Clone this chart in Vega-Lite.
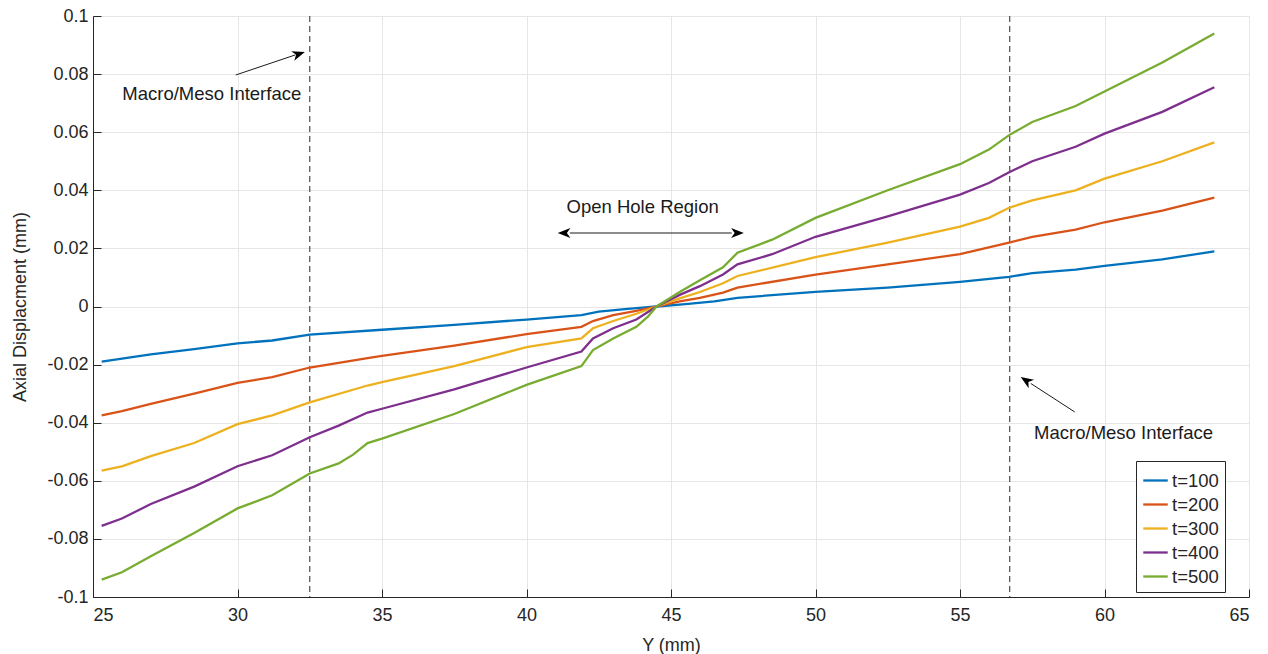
{
  "$schema": "https://vega.github.io/schema/vega-lite/v6.json",
  "width": 1156,
  "height": 581,
  "autosize": "none",
  "padding": {"left": 93, "top": 16, "right": 19, "bottom": 57},
  "background": "white",
  "config": {
    "font": "Liberation Sans",
    "view": {"stroke": "#e6e6e6", "strokeWidth": 1},
    "axis": {
      "labelFont": "Liberation Sans",
      "titleFont": "Liberation Sans",
      "labelFontSize": 18,
      "titleFontSize": 18,
      "titleFontWeight": "normal",
      "labelColor": "#262626",
      "titleColor": "#262626",
      "domainColor": "#262626",
      "tickColor": "#262626",
      "gridColor": "#e6e6e6",
      "gridWidth": 1,
      "tickSize": -8
    }
  },
  "datasets": {
    "curves": [
      {"x": 25.3, "y": -0.019, "s": "t=100"},
      {"x": 27, "y": -0.0165, "s": "t=100"},
      {"x": 28.5, "y": -0.0147, "s": "t=100"},
      {"x": 30, "y": -0.0127, "s": "t=100"},
      {"x": 31.2, "y": -0.0117, "s": "t=100"},
      {"x": 32.5, "y": -0.0097, "s": "t=100"},
      {"x": 35, "y": -0.008, "s": "t=100"},
      {"x": 37.5, "y": -0.0063, "s": "t=100"},
      {"x": 40, "y": -0.0045, "s": "t=100"},
      {"x": 41.9, "y": -0.003, "s": "t=100"},
      {"x": 42.5, "y": -0.0018, "s": "t=100"},
      {"x": 43.5, "y": -0.0008, "s": "t=100"},
      {"x": 44.5, "y": 0, "s": "t=100"},
      {"x": 45.5, "y": 0.0008, "s": "t=100"},
      {"x": 46.5, "y": 0.0018, "s": "t=100"},
      {"x": 47.3, "y": 0.003, "s": "t=100"},
      {"x": 50, "y": 0.005, "s": "t=100"},
      {"x": 52.5, "y": 0.0065, "s": "t=100"},
      {"x": 55, "y": 0.0085, "s": "t=100"},
      {"x": 56.7, "y": 0.0102, "s": "t=100"},
      {"x": 57.5, "y": 0.0115, "s": "t=100"},
      {"x": 59, "y": 0.0127, "s": "t=100"},
      {"x": 60, "y": 0.014, "s": "t=100"},
      {"x": 62, "y": 0.0162, "s": "t=100"},
      {"x": 63.8, "y": 0.019, "s": "t=100"},

      {"x": 25.3, "y": -0.0375, "s": "t=200"},
      {"x": 26, "y": -0.036, "s": "t=200"},
      {"x": 27, "y": -0.0335, "s": "t=200"},
      {"x": 28.5, "y": -0.03, "s": "t=200"},
      {"x": 30, "y": -0.0263, "s": "t=200"},
      {"x": 31.2, "y": -0.0243, "s": "t=200"},
      {"x": 32.5, "y": -0.021, "s": "t=200"},
      {"x": 34.5, "y": -0.0178, "s": "t=200"},
      {"x": 35, "y": -0.017, "s": "t=200"},
      {"x": 37.5, "y": -0.0135, "s": "t=200"},
      {"x": 40, "y": -0.0095, "s": "t=200"},
      {"x": 41.9, "y": -0.007, "s": "t=200"},
      {"x": 42.3, "y": -0.005, "s": "t=200"},
      {"x": 43, "y": -0.003, "s": "t=200"},
      {"x": 43.8, "y": -0.0015, "s": "t=200"},
      {"x": 44.5, "y": 0, "s": "t=200"},
      {"x": 45.3, "y": 0.0018, "s": "t=200"},
      {"x": 46, "y": 0.003, "s": "t=200"},
      {"x": 46.8, "y": 0.0048, "s": "t=200"},
      {"x": 47.3, "y": 0.0065, "s": "t=200"},
      {"x": 50, "y": 0.011, "s": "t=200"},
      {"x": 52.5, "y": 0.0145, "s": "t=200"},
      {"x": 55, "y": 0.018, "s": "t=200"},
      {"x": 56.7, "y": 0.022, "s": "t=200"},
      {"x": 57.5, "y": 0.024, "s": "t=200"},
      {"x": 59, "y": 0.0265, "s": "t=200"},
      {"x": 60, "y": 0.029, "s": "t=200"},
      {"x": 62, "y": 0.033, "s": "t=200"},
      {"x": 63.8, "y": 0.0375, "s": "t=200"},

      {"x": 25.3, "y": -0.0565, "s": "t=300"},
      {"x": 26, "y": -0.055, "s": "t=300"},
      {"x": 27, "y": -0.0515, "s": "t=300"},
      {"x": 28.5, "y": -0.047, "s": "t=300"},
      {"x": 30, "y": -0.0405, "s": "t=300"},
      {"x": 31.2, "y": -0.0375, "s": "t=300"},
      {"x": 32.5, "y": -0.033, "s": "t=300"},
      {"x": 34.5, "y": -0.0272, "s": "t=300"},
      {"x": 35, "y": -0.026, "s": "t=300"},
      {"x": 37.5, "y": -0.0205, "s": "t=300"},
      {"x": 40, "y": -0.014, "s": "t=300"},
      {"x": 41.9, "y": -0.011, "s": "t=300"},
      {"x": 42.3, "y": -0.0075, "s": "t=300"},
      {"x": 43, "y": -0.005, "s": "t=300"},
      {"x": 43.8, "y": -0.0025, "s": "t=300"},
      {"x": 44.5, "y": 0, "s": "t=300"},
      {"x": 45.3, "y": 0.0028, "s": "t=300"},
      {"x": 46, "y": 0.005, "s": "t=300"},
      {"x": 46.8, "y": 0.008, "s": "t=300"},
      {"x": 47.3, "y": 0.0105, "s": "t=300"},
      {"x": 50, "y": 0.017, "s": "t=300"},
      {"x": 52.5, "y": 0.022, "s": "t=300"},
      {"x": 55, "y": 0.0275, "s": "t=300"},
      {"x": 56, "y": 0.0305, "s": "t=300"},
      {"x": 56.7, "y": 0.034, "s": "t=300"},
      {"x": 57.5, "y": 0.0365, "s": "t=300"},
      {"x": 59, "y": 0.04, "s": "t=300"},
      {"x": 60, "y": 0.044, "s": "t=300"},
      {"x": 62, "y": 0.05, "s": "t=300"},
      {"x": 63.8, "y": 0.0565, "s": "t=300"},

      {"x": 25.3, "y": -0.0755, "s": "t=400"},
      {"x": 26, "y": -0.073, "s": "t=400"},
      {"x": 27, "y": -0.068, "s": "t=400"},
      {"x": 28.5, "y": -0.062, "s": "t=400"},
      {"x": 30, "y": -0.055, "s": "t=400"},
      {"x": 31.2, "y": -0.0512, "s": "t=400"},
      {"x": 32.5, "y": -0.045, "s": "t=400"},
      {"x": 33.5, "y": -0.041, "s": "t=400"},
      {"x": 34.5, "y": -0.0365, "s": "t=400"},
      {"x": 35, "y": -0.0352, "s": "t=400"},
      {"x": 37.5, "y": -0.0285, "s": "t=400"},
      {"x": 40, "y": -0.021, "s": "t=400"},
      {"x": 41.9, "y": -0.0155, "s": "t=400"},
      {"x": 42.3, "y": -0.011, "s": "t=400"},
      {"x": 43, "y": -0.0075, "s": "t=400"},
      {"x": 43.8, "y": -0.0045, "s": "t=400"},
      {"x": 44.5, "y": 0, "s": "t=400"},
      {"x": 45.3, "y": 0.004, "s": "t=400"},
      {"x": 46, "y": 0.007, "s": "t=400"},
      {"x": 46.8, "y": 0.011, "s": "t=400"},
      {"x": 47.3, "y": 0.0145, "s": "t=400"},
      {"x": 48.5, "y": 0.018, "s": "t=400"},
      {"x": 50, "y": 0.024, "s": "t=400"},
      {"x": 52.5, "y": 0.031, "s": "t=400"},
      {"x": 55, "y": 0.0385, "s": "t=400"},
      {"x": 56, "y": 0.0425, "s": "t=400"},
      {"x": 56.7, "y": 0.0462, "s": "t=400"},
      {"x": 57.5, "y": 0.05, "s": "t=400"},
      {"x": 59, "y": 0.055, "s": "t=400"},
      {"x": 60, "y": 0.0595, "s": "t=400"},
      {"x": 62, "y": 0.067, "s": "t=400"},
      {"x": 63.8, "y": 0.0755, "s": "t=400"},

      {"x": 25.3, "y": -0.094, "s": "t=500"},
      {"x": 26, "y": -0.0915, "s": "t=500"},
      {"x": 27, "y": -0.086, "s": "t=500"},
      {"x": 28.5, "y": -0.078, "s": "t=500"},
      {"x": 30, "y": -0.0695, "s": "t=500"},
      {"x": 31.2, "y": -0.065, "s": "t=500"},
      {"x": 32.5, "y": -0.0575, "s": "t=500"},
      {"x": 33.5, "y": -0.054, "s": "t=500"},
      {"x": 34, "y": -0.051, "s": "t=500"},
      {"x": 34.5, "y": -0.047, "s": "t=500"},
      {"x": 35, "y": -0.0455, "s": "t=500"},
      {"x": 37.5, "y": -0.037, "s": "t=500"},
      {"x": 40, "y": -0.027, "s": "t=500"},
      {"x": 41.9, "y": -0.0205, "s": "t=500"},
      {"x": 42.3, "y": -0.015, "s": "t=500"},
      {"x": 43, "y": -0.011, "s": "t=500"},
      {"x": 43.8, "y": -0.007, "s": "t=500"},
      {"x": 44.2, "y": -0.0035, "s": "t=500"},
      {"x": 44.5, "y": 0, "s": "t=500"},
      {"x": 45.3, "y": 0.005, "s": "t=500"},
      {"x": 46, "y": 0.009, "s": "t=500"},
      {"x": 46.8, "y": 0.0135, "s": "t=500"},
      {"x": 47.3, "y": 0.0185, "s": "t=500"},
      {"x": 48.5, "y": 0.023, "s": "t=500"},
      {"x": 50, "y": 0.0305, "s": "t=500"},
      {"x": 52.5, "y": 0.04, "s": "t=500"},
      {"x": 55, "y": 0.049, "s": "t=500"},
      {"x": 56, "y": 0.054, "s": "t=500"},
      {"x": 56.7, "y": 0.059, "s": "t=500"},
      {"x": 57.5, "y": 0.0635, "s": "t=500"},
      {"x": 59, "y": 0.069, "s": "t=500"},
      {"x": 60, "y": 0.074, "s": "t=500"},
      {"x": 62, "y": 0.084, "s": "t=500"},
      {"x": 63.8, "y": 0.094, "s": "t=500"}
    ],
    "interfaces": [{"x": 32.5}, {"x": 56.72}],
    "shafts": [
      {"x": 29.94, "y": 0.0797, "x2": 32.0, "y2": 0.0866},
      {"x": 41.5, "y": 0.0253, "x2": 47.1, "y2": 0.0253},
      {"x": 58.97, "y": -0.0363, "x2": 57.45, "y2": -0.0265}
    ],
    "heads": [
      {"x": 32.33, "y": 0.0876, "a": 72},
      {"x": 41.08, "y": 0.0253, "a": 270},
      {"x": 47.52, "y": 0.0253, "a": 90},
      {"x": 57.1, "y": -0.0243, "a": 303}
    ],
    "labels": [
      {"x": 29.11, "y": 0.0731, "t": "Macro/Meso Interface"},
      {"x": 60.66, "y": -0.0435, "t": "Macro/Meso Interface"},
      {"x": 44.02, "y": 0.0342, "t": "Open Hole Region"}
    ]
  },
  "layer": [
    {
      "data": {"name": "interfaces"},
      "mark": {"type": "rule", "color": "#4d4d4d", "strokeDash": [6, 4], "strokeWidth": 1.2},
      "encoding": {
        "x": {"field": "x", "type": "quantitative"}
      }
    },
    {
      "data": {"name": "curves"},
      "mark": {"type": "line", "strokeWidth": 2.3, "interpolate": "linear"},
      "encoding": {
        "x": {
          "field": "x", "type": "quantitative",
          "scale": {"domain": [25, 65], "nice": false, "zero": false},
          "axis": {
            "title": "Y (mm)",
            "values": [25, 30, 35, 40, 45, 50, 55, 60, 65],
            "labelPadding": 17,
            "titlePadding": 12,
            "grid": true
          }
        },
        "y": {
          "field": "y", "type": "quantitative",
          "scale": {"domain": [-0.1, 0.1], "nice": false, "zero": false},
          "axis": {
            "title": "Axial Displacment (mm)",
            "values": [-0.1, -0.08, -0.06, -0.04, -0.02, 0, 0.02, 0.04, 0.06, 0.08, 0.1],
            "labelExpr": "replace(format(datum.value, '~g'), '\u2212', '-')",
            "labelPadding": 13,
            "titlePadding": 17,
            "grid": true
          }
        },
        "color": {
          "field": "s", "type": "nominal",
          "scale": {
            "domain": ["t=100", "t=200", "t=300", "t=400", "t=500"],
            "range": ["#0072BD", "#D95319", "#EDB120", "#7E2F8E", "#77AC30"]
          },
          "legend": {
            "title": null,
            "orient": "none",
            "legendX": 1043,
            "legendY": 445,
            "symbolType": "stroke",
            "symbolSize": 600,
            "symbolStrokeWidth": 2.3,
            "labelFontSize": 18.5,
            "labelFont": "Liberation Sans",
            "labelColor": "#262626",
            "strokeColor": "#262626",
            "fillColor": "white",
            "padding": 6,
            "rowPadding": 1,
            "labelOffset": 3
          }
        }
      }
    },
    {
      "data": {"name": "shafts"},
      "mark": {"type": "rule", "color": "#1a1a1a", "strokeWidth": 1},
      "encoding": {
        "x": {"field": "x", "type": "quantitative"},
        "y": {"field": "y", "type": "quantitative"},
        "x2": {"field": "x2"},
        "y2": {"field": "y2"}
      }
    },
    {
      "data": {"name": "heads"},
      "mark": {
        "type": "point",
        "shape": "M0,0L0.7,1.8L0,1.3L-0.7,1.8Z",
        "filled": true,
        "color": "#000000",
        "size": 200,
        "opacity": 1
      },
      "encoding": {
        "x": {"field": "x", "type": "quantitative"},
        "y": {"field": "y", "type": "quantitative"},
        "angle": {"field": "a", "type": "quantitative", "scale": null}
      }
    },
    {
      "data": {"name": "labels"},
      "mark": {"type": "text", "fontSize": 18.5, "font": "Liberation Sans", "color": "#1a1a1a", "align": "center", "baseline": "middle"},
      "encoding": {
        "x": {"field": "x", "type": "quantitative"},
        "y": {"field": "y", "type": "quantitative"},
        "text": {"field": "t"}
      }
    }
  ]
}
